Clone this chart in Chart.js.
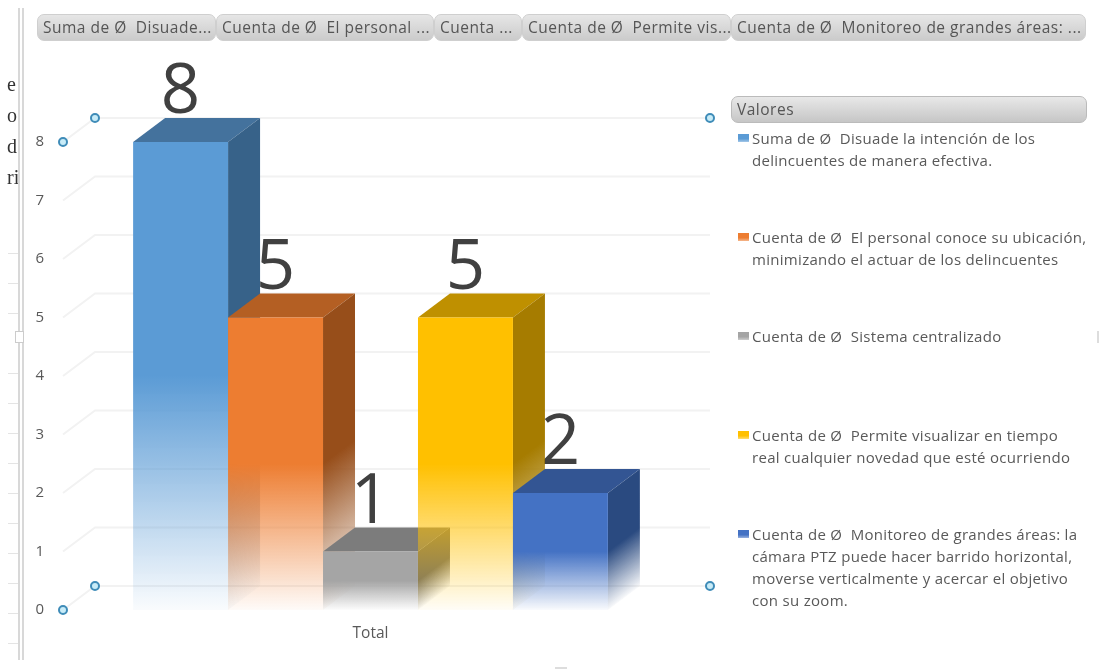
<!DOCTYPE html>
<html><head><meta charset="utf-8">
<script src="https://cdn.jsdelivr.net/npm/chart.js@4"></script>
<style>
html,body{margin:0;padding:0;background:#fff;overflow:hidden}
#wrap{position:relative;width:1099px;height:669px;filter:blur(.45px);font-family:"Open Sans",sans-serif;color:#595959}
canvas{position:absolute;left:0;top:0}
.pill{position:absolute;box-sizing:border-box;height:27px;border:1px solid #cfcfcf;border-radius:7px;
 background:linear-gradient(#e6e6e6,#cbcbcb);white-space:pre;font-size:15.5px;line-height:25px;padding-left:5px;overflow:hidden;letter-spacing:.5px;color:#555}
.lg{position:absolute;left:752px;font-size:15px;line-height:22px;white-space:pre;letter-spacing:.3px}
.mk{position:absolute;left:738px;width:11px;height:8px}
.frag{position:absolute;left:7px;font-family:"Liberation Serif",serif;font-size:20px;color:#333;line-height:20px}
.rule{position:absolute;background:#d8d8d8}
</style></head><body>
<div id="wrap"><canvas id="c" width="1099" height="669"></canvas></div>
<script>
const categories = ['Total'];
const seriesNames = [
 'Suma de Ø  Disuade la intención de los delincuentes de manera efectiva.',
 'Cuenta de Ø  El personal conoce su ubicación, minimizando el actuar de los delincuentes',
 'Cuenta de Ø  Sistema centralizado',
 'Cuenta de Ø  Permite visualizar en tiempo real cualquier novedad que esté ocurriendo',
 'Cuenta de Ø  Monitoreo de grandes áreas: la cámara PTZ puede hacer barrido horizontal, moverse verticalmente y acercar el objetivo con su zoom.'
];
const seriesValues = [8, 5, 1, 5, 2];
const yTicks = [0,1,2,3,4,5,6,7,8];
const frontColors = ['91,155,213','237,125,49','165,165,165','255,192,0','68,114,196'];
const topColors   = ['#44729d','#b45f23','#7c7c7c','#bf9000','#335593'];
const sideColors  = ['55,98,137','151,78,26','110,110,110','166,124,0','42,74,128'];
const pillLabels = ['Suma de Ø  Disuade...','Cuenta de Ø  El personal ...','Cuenta ...','Cuenta de Ø  Permite vis...','Cuenta de Ø  Monitoreo de grandes áreas: ...'];
const legendLines = [
 ['Suma de Ø  Disuade la intención de los','delincuentes de manera efectiva.'],
 ['Cuenta de Ø  El personal conoce su ubicación,','minimizando el actuar de los delincuentes'],
 ['Cuenta de Ø  Sistema centralizado'],
 ['Cuenta de Ø  Permite visualizar en tiempo','real cualquier novedad que esté ocurriendo'],
 ['Cuenta de Ø  Monitoreo de grandes áreas: la','cámara PTZ puede hacer barrido horizontal,','moverse verticalmente y acercar el objetivo','con su zoom.']
];
const DX = 32, DY = 24;

function fade(ctx, rgb, yTop, yBase){
  if(!isFinite(yTop) || !isFinite(yBase)) return `rgb(${rgb})`;
  const g = ctx.createLinearGradient(0, yTop, 0, yBase);
  g.addColorStop(0, `rgba(${rgb},1)`);
  g.addColorStop(0.5, `rgba(${rgb},1)`);
  g.addColorStop(1, `rgba(${rgb},0.03)`);
  return g;
}

const threeD = {
  id:'threeD',
  beforeDatasetsDraw(chart){
    const {ctx, chartArea:a, scales:{y}} = chart;
    ctx.save();
    ctx.strokeStyle = '#f2f2f2'; ctx.lineWidth = 2;
    yTicks.forEach(v=>{
      const p = y.getPixelForValue(v);
      ctx.beginPath(); ctx.moveTo(a.left,p); ctx.lineTo(a.left+DX,p-DY); ctx.lineTo(a.right+DX,p-DY); ctx.stroke();
    });
    const top = yTicks[yTicks.length-1], bot = yTicks[0];
    ctx.lineWidth = 2; ctx.strokeStyle = '#3f8cb8'; ctx.fillStyle = '#c8ecf8';
    [[a.left,top,0],[a.left+DX,top,1],[a.right+DX,top,1],[a.left,bot,0],[a.left+DX,bot,1],[a.right+DX,bot,1]].forEach(([x,v,d])=>{
      ctx.beginPath(); ctx.arc(x, y.getPixelForValue(v)-(d?DY:0), 4, 0, Math.PI*2); ctx.fill(); ctx.stroke();
    });
    // value labels sit behind the columns
    ctx.font = '69px "Open Sans"'; ctx.fillStyle = '#404040'; ctx.textAlign = 'center'; ctx.textBaseline = 'alphabetic';
    chart.data.datasets.forEach((d,i)=>{
      const el = chart.getDatasetMeta(i).data[0];
      ctx.fillText(String(d.data[0]), el.x, el.y-29);
    });
    // columns painted left to right so each one overlaps the side of the previous
    chart.data.datasets.forEach((d,i)=>{
      const el = chart.getDatasetMeta(i).data[0];
      const x0 = el.x-el.width/2, x1 = el.x+el.width/2, yT = el.y, yB = el.base;
      ctx.save();
      ctx.fillStyle = topColors[i];
      ctx.beginPath(); ctx.moveTo(x0,yT); ctx.lineTo(x0+DX,yT-DY); ctx.lineTo(x1+DX,yT-DY); ctx.lineTo(x1,yT); ctx.closePath(); ctx.fill();
      ctx.transform(1,-DY/DX,0,1,0,x1*DY/DX);
      ctx.fillStyle = fade(ctx, sideColors[i], yT, yB);
      ctx.fillRect(x1,yT,DX,yB-yT);
      ctx.restore();
      el.draw(ctx, a);
    });
    ctx.restore();
    return false;
  }
};

new Chart(document.getElementById('c'),{
  type:'bar',
  data:{labels:categories,datasets:seriesNames.map((n,i)=>({
    label:n,data:[seriesValues[i]],borderWidth:0,
    backgroundColor(c){
      const y=c.chart.scales.y; if(!y) return `rgb(${frontColors[i]})`;
      return fade(c.chart.ctx,frontColors[i],y.getPixelForValue(seriesValues[i]),y.getPixelForValue(0));
    }
  }))},
  options:{
    responsive:false,animation:false,events:[],
    categoryPercentage:.772,barPercentage:1,
    layout:{padding:{left:0,right:421,top:142,bottom:0}},
    plugins:{legend:{display:false},tooltip:{enabled:false},title:{display:false}},
    scales:{
      x:{grid:{display:false},border:{display:false},
         ticks:{color:'#595959',font:{family:'"Open Sans"',size:15.5},padding:6},
         afterFit(s){s.height=59}},
      y:{min:0,max:8,grid:{display:false},border:{display:false},
         ticks:{stepSize:1,color:'#595959',font:{family:'"Open Sans"',size:15},padding:11},
         afterFit(s){s.width=63}}
    }
  },
  plugins:[threeD]
});

const wrap=document.getElementById('wrap');
function add(cls,css,txt){const d=document.createElement('div');d.className=cls;d.style.cssText=css;if(txt)d.textContent=txt;wrap.appendChild(d);return d}
const pillX=[[37,179],[216,218],[434,88],[522,209],[731,355]];
pillLabels.forEach((t,i)=>add('pill',`left:${pillX[i][0]}px;top:14px;width:${pillX[i][1]}px`,t));
add('pill','left:731px;top:96px;width:356px;border-color:#bbb;background:linear-gradient(#e8e8e8,#c6c6c6)','Valores');
const legendTop=[127,226,325,424,523];
legendLines.forEach((ls,i)=>{
  add('mk',`top:${legendTop[i]+7}px;background:linear-gradient(rgb(${frontColors[i]}) 60%,rgba(${frontColors[i]},.55))`);
  ls.forEach((l,j)=>add('lg',`top:${legendTop[i]+j*22}px`,l));
});
// left-hand window remnants
[['e',74],['o',105],['d',136],['ri',167]].forEach(([t,y])=>add('frag',`top:${y}px`,t));
add('rule','left:18px;top:8px;width:1.5px;height:652px');
add('rule','left:22px;top:8px;width:1.5px;height:652px');
[253,283,313,373,403,433,463,493,523,553,583,613,643].forEach(y=>add('rule',`left:8px;top:${y}px;width:10px;height:1px;background:#e4e4e4`));
add('rule','left:15px;top:331px;width:9px;height:12px;background:#fff;border:1px solid #ccc;box-sizing:border-box');
add('rule','left:1097px;top:331px;width:2px;height:12px;background:#ddd');
add('rule','left:555px;top:667px;width:12px;height:2px;background:#ddd');
</script>
</body></html>
